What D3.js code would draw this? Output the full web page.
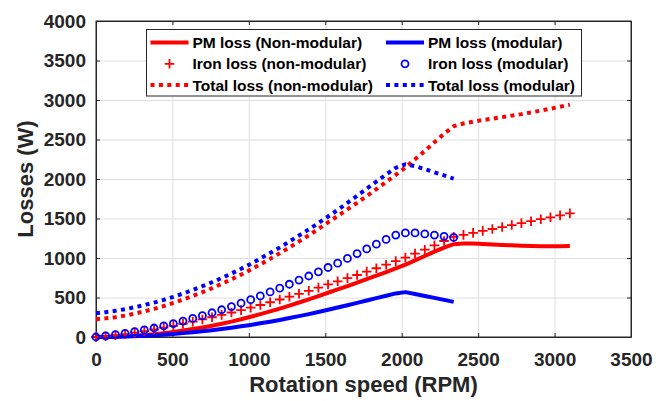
<!DOCTYPE html>
<html>
<head>
<meta charset="utf-8">
<script src="https://cdnjs.cloudflare.com/ajax/libs/d3/7.8.5/d3.min.js"></script>
<style>
  body { margin: 0; background: #fff; }
  svg text { font-family: "Liberation Sans", Arial, sans-serif; font-weight: bold; }
</style>
</head>
<body>
<svg id="chart" width="656" height="401"></svg>
<script>
// speed points (RPM), non-modular runs to 3100, modular stops at 2340
const rpm = [0, 63, 127, 190, 253, 316, 380, 443, 506, 569, 633, 696, 759, 822, 886, 949,
  1012, 1075, 1139, 1202, 1265, 1328, 1392, 1455, 1518, 1581, 1645, 1708, 1771, 1834, 1898, 1961,
  2024, 2087, 2151, 2214, 2277, 2340, 2404, 2467, 2530, 2593, 2657, 2720, 2783, 2846, 2910, 2973,
  3036, 3100];

const pmNonModular = [0, 1, 4, 9, 16, 25, 36, 49, 64, 81, 100, 120, 143, 168, 195, 224,
  256, 289, 324, 360, 398, 437, 477, 518, 560, 602, 645, 688, 732, 776, 822, 868,
  915, 970, 1025, 1080, 1132, 1175, 1185, 1183, 1178, 1172, 1166, 1160, 1155, 1152, 1150, 1150,
  1150, 1152];
const ironNonModular = [0, 10, 22, 37, 55, 74, 95, 118, 142, 168, 195, 222, 250, 280, 310, 340,
  372, 405, 440, 475, 510, 547, 585, 625, 665, 705, 745, 785, 827, 870, 915, 960,
  1005, 1055, 1105, 1160, 1215, 1268, 1293, 1318, 1343, 1367, 1392, 1417, 1441, 1466, 1491, 1515,
  1540, 1565];
const totalNonModular = [225, 236, 251, 271, 296, 324, 356, 392, 431, 474, 520, 567, 618, 673, 730, 789,
  853, 919, 989, 1060, 1133, 1209, 1287, 1368, 1450, 1532, 1615, 1698, 1784, 1871, 1962, 2053,
  2145, 2250, 2355, 2465, 2572, 2668, 2703, 2726, 2746, 2764, 2783, 2802, 2821, 2843, 2866, 2890,
  2915, 2942];

const pmModular = [0, 1, 2, 5, 10, 15, 22, 29, 38, 49, 60, 73, 86, 101, 118, 135,
  153, 173, 194, 216, 240, 264, 290, 317, 345, 373, 402, 432, 462, 492, 522, 552,
  568, 545, 520, 495, 470, 445];
const ironModular = [0, 13, 29, 47, 67, 90, 114, 141, 170, 201, 235, 270, 307, 345, 385, 428,
  472, 520, 570, 618, 668, 720, 772, 825, 880, 935, 995, 1055, 1115, 1175, 1235, 1290,
  1318, 1318, 1305, 1290, 1275, 1260];
const totalModular = [300, 314, 331, 352, 377, 405, 436, 470, 508, 550, 595, 643, 693, 746, 803, 863,
  925, 993, 1064, 1134, 1208, 1284, 1362, 1442, 1525, 1608, 1697, 1787, 1877, 1967, 2057, 2142,
  2186, 2163, 2125, 2085, 2045, 2005];

const xTicks = [0, 500, 1000, 1500, 2000, 2500, 3000, 3500];
const yTicks = [0, 500, 1000, 1500, 2000, 2500, 3000, 3500, 4000];

const legendLabels = [
  'PM loss (Non-modular)', 'PM loss (modular)',
  'Iron loss (non-modular)', 'Iron loss (modular)',
  'Total loss (non-modular)', 'Total loss (modular)'
];

const RED = '#ff0000';
const BLUE = '#0000ff';
const axisColor = '#262626';
const DOTS = '4,4.4';

const svg = d3.select('#chart');
const plotL = 96, plotR = 631, plotT = 21, plotB = 337;

const x = d3.scaleLinear().domain([0, 3500]).range([plotL, plotR]);
const y = d3.scaleLinear().domain([0, 4000]).range([plotB, plotT]);

function zip(values){
  return values.map((v, i) => [rpm[i], v]);
}

// grid
svg.append('g')
  .attr('transform', `translate(0,${plotB})`)
  .call(d3.axisBottom(x).tickValues(xTicks).tickSize(-(plotB - plotT)).tickFormat(''))
  .call(g => g.select('.domain').remove())
  .selectAll('line').attr('stroke', '#dfdfdf').attr('stroke-width', 1);
svg.append('g')
  .attr('transform', `translate(${plotL},0)`)
  .call(d3.axisLeft(y).tickValues(yTicks).tickSize(-(plotR - plotL)).tickFormat(''))
  .call(g => g.select('.domain').remove())
  .selectAll('line').attr('stroke', '#dfdfdf').attr('stroke-width', 1);

// axes with inward ticks
const axes = svg.append('g').attr('class', 'axes');
axes.append('g')
  .attr('transform', `translate(0,${plotB})`)
  .call(d3.axisBottom(x).tickValues(xTicks).tickFormat(d3.format('d'))
    .tickSize(-4).tickPadding(16).tickSizeOuter(0));
axes.append('g')
  .attr('transform', `translate(${plotL},0)`)
  .call(d3.axisLeft(y).tickValues(yTicks).tickFormat(d3.format('d'))
    .tickSize(-4).tickPadding(10).tickSizeOuter(0));
axes.append('g')
  .attr('transform', `translate(0,${plotT})`)
  .call(d3.axisTop(x).tickValues(xTicks).tickSize(-4).tickFormat('').tickSizeOuter(0));
axes.append('g')
  .attr('transform', `translate(${plotR},0)`)
  .call(d3.axisRight(y).tickValues(yTicks).tickSize(-4).tickFormat('').tickSizeOuter(0));

axes.selectAll('.domain, .tick line').attr('stroke', axisColor);
axes.selectAll('.tick text')
  .attr('fill', axisColor)
  .style('font-size', '19px');

axes.append('rect')
  .attr('x', plotL).attr('y', plotT)
  .attr('width', plotR - plotL).attr('height', plotB - plotT)
  .attr('fill', 'none').attr('stroke', axisColor).attr('stroke-width', 1);

// axis titles
svg.append('text')
  .attr('x', (plotL + plotR) / 2).attr('y', 392)
  .attr('text-anchor', 'middle').attr('fill', axisColor)
  .style('font-size', '22px')
  .text('Rotation speed (RPM)');
svg.append('text')
  .attr('transform', `translate(33,${(plotT + plotB) / 2})rotate(-90)`)
  .attr('text-anchor', 'middle').attr('fill', axisColor)
  .style('font-size', '22px')
  .text('Losses (W)');

const line = d3.line().x(d => x(d[0])).y(d => y(d[1]));

function drawLine(values, color, dotted){
  svg.append('path')
    .datum(zip(values))
    .attr('d', line)
    .attr('fill', 'none')
    .attr('stroke', color)
    .attr('stroke-width', dotted ? 4 : 4)
    .attr('stroke-dasharray', dotted ? DOTS : null)
    .attr('stroke-linejoin', 'round');
}

function drawCrosses(g, pts, color){
  g.selectAll('path.cross')
    .data(pts)
    .enter().append('path')
    .attr('class', 'cross')
    .attr('d', d => `M${x(d[0]) - 4.8},${y(d[1])}h9.6M${x(d[0])},${y(d[1]) - 4.8}v9.6`)
    .attr('stroke', color)
    .attr('stroke-width', 1.8)
    .attr('fill', 'none');
}

function drawCircles(g, pts, color){
  g.selectAll('circle')
    .data(pts)
    .enter().append('circle')
    .attr('cx', d => x(d[0]))
    .attr('cy', d => y(d[1]))
    .attr('r', 3.5)
    .attr('stroke', color)
    .attr('stroke-width', 1.8)
    .attr('fill', 'none');
}

drawLine(pmNonModular, RED, false);
drawLine(pmModular, BLUE, false);
drawCrosses(svg.append('g'), zip(ironNonModular), RED);
drawCircles(svg.append('g'), zip(ironModular), BLUE);
drawLine(totalNonModular, RED, true);
drawLine(totalModular, BLUE, true);

// legend
const legend = svg.append('g');
legend.append('rect')
  .attr('x', 146.5).attr('y', 29.5)
  .attr('width', 435).attr('height', 66.5)
  .attr('fill', '#fff').attr('stroke', axisColor).attr('stroke-width', 1);

const colX = [150.5, 386];
const rowY = [42.5, 63.8, 85];
legendLabels.forEach((label, i) => {
  const col = i % 2, row = Math.floor(i / 2);
  const color = col === 0 ? RED : BLUE;
  const lx = colX[col], ly = rowY[row];
  const g = legend.append('g');
  if(row === 0 || row === 2){
    g.append('line')
      .attr('x1', lx).attr('x2', lx + 38)
      .attr('y1', ly).attr('y2', ly)
      .attr('stroke', color)
      .attr('stroke-width', 4)
      .attr('stroke-dasharray', row === 2 ? DOTS : null);
  }else if(col === 0){
    drawCrosses(g, [[x.invert(lx + 19), y.invert(ly)]], color);
  }else{
    drawCircles(g, [[x.invert(lx + 19), y.invert(ly)]], color);
  }
  g.append('text')
    .attr('x', lx + 42).attr('y', ly + 5.6)
    .attr('fill', '#000')
    .style('font-size', '15.5px')
    .text(label);
});
</script>
</body>
</html>
